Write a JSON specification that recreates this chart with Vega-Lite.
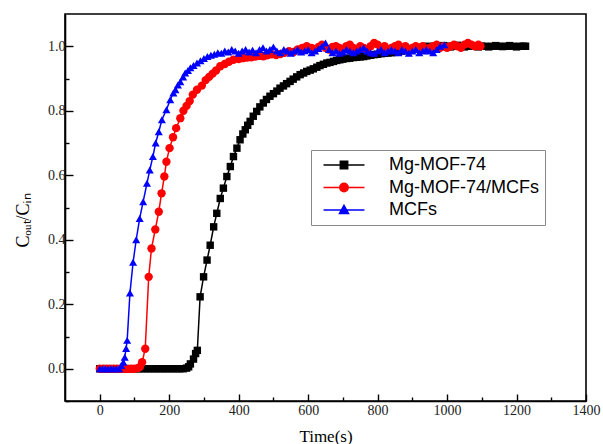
{
  "$schema": "https://vega.github.io/schema/vega-lite/v6.json",
  "width": 521,
  "height": 387,
  "autosize": {"type": "none"},
  "padding": {"left": 65, "top": 14, "right": 17, "bottom": 43},
  "background": "white",
  "config": {
    "view": {"stroke": "black", "strokeWidth": 1.6},
    "axis": {
      "domainColor": "black", "domainWidth": 1.6, "tickColor": "black", "tickWidth": 1.4,
      "labelFont": "Liberation Serif", "labelFontSize": 14, "labelColor": "#222",
      "titleFont": "Liberation Serif", "titleFontSize": 17, "titleFontWeight": "normal", "titleColor": "black",
      "grid": false
    }
  },
  "data": {"values": [
    {"s":"Mg-MOF-74","t":0,"v":0},{"s":"Mg-MOF-74","t":10,"v":0},{"s":"Mg-MOF-74","t":20,"v":0},{"s":"Mg-MOF-74","t":30,"v":0},{"s":"Mg-MOF-74","t":40,"v":0},{"s":"Mg-MOF-74","t":50,"v":0},{"s":"Mg-MOF-74","t":60,"v":0},{"s":"Mg-MOF-74","t":70,"v":0},{"s":"Mg-MOF-74","t":80,"v":0},{"s":"Mg-MOF-74","t":90,"v":0},{"s":"Mg-MOF-74","t":100,"v":0},{"s":"Mg-MOF-74","t":110,"v":0},{"s":"Mg-MOF-74","t":120,"v":0},{"s":"Mg-MOF-74","t":130,"v":0},{"s":"Mg-MOF-74","t":140,"v":0},{"s":"Mg-MOF-74","t":150,"v":0},{"s":"Mg-MOF-74","t":160,"v":0},{"s":"Mg-MOF-74","t":170,"v":0},{"s":"Mg-MOF-74","t":180,"v":0},{"s":"Mg-MOF-74","t":190,"v":0},{"s":"Mg-MOF-74","t":200,"v":0},{"s":"Mg-MOF-74","t":210,"v":0},{"s":"Mg-MOF-74","t":220,"v":0},{"s":"Mg-MOF-74","t":230,"v":0},{"s":"Mg-MOF-74","t":240,"v":0},{"s":"Mg-MOF-74","t":250,"v":0.002},
    {"s":"Mg-MOF-74","t":256,"v":0.006},{"s":"Mg-MOF-74","t":261,"v":0.015},{"s":"Mg-MOF-74","t":270,"v":0.03},{"s":"Mg-MOF-74","t":276,"v":0.047},{"s":"Mg-MOF-74","t":281,"v":0.057},{"s":"Mg-MOF-74","t":289,"v":0.223},{"s":"Mg-MOF-74","t":299,"v":0.285},{"s":"Mg-MOF-74","t":309,"v":0.337},{"s":"Mg-MOF-74","t":318,"v":0.383},{"s":"Mg-MOF-74","t":328,"v":0.44},{"s":"Mg-MOF-74","t":337,"v":0.482},{"s":"Mg-MOF-74","t":347,"v":0.528},{"s":"Mg-MOF-74","t":356,"v":0.56},{"s":"Mg-MOF-74","t":366,"v":0.596},{"s":"Mg-MOF-74","t":376,"v":0.627},{"s":"Mg-MOF-74","t":385,"v":0.658},{"s":"Mg-MOF-74","t":395,"v":0.684},
    {"s":"Mg-MOF-74","t":404,"v":0.71},{"s":"Mg-MOF-74","t":412,"v":0.728},{"s":"Mg-MOF-74","t":419,"v":0.741},{"s":"Mg-MOF-74","t":426,"v":0.755},{"s":"Mg-MOF-74","t":433,"v":0.767},{"s":"Mg-MOF-74","t":442,"v":0.783},{"s":"Mg-MOF-74","t":452,"v":0.798},{"s":"Mg-MOF-74","t":461,"v":0.812},
    {"s":"Mg-MOF-74","t":471,"v":0.824},{"s":"Mg-MOF-74","t":480,"v":0.835},{"s":"Mg-MOF-74","t":490,"v":0.845},{"s":"Mg-MOF-74","t":500,"v":0.853},{"s":"Mg-MOF-74","t":510,"v":0.861},{"s":"Mg-MOF-74","t":519,"v":0.87},{"s":"Mg-MOF-74","t":529,"v":0.877},{"s":"Mg-MOF-74","t":538,"v":0.884},{"s":"Mg-MOF-74","t":548,"v":0.891},{"s":"Mg-MOF-74","t":557,"v":0.898},{"s":"Mg-MOF-74","t":567,"v":0.905},{"s":"Mg-MOF-74","t":577,"v":0.912},{"s":"Mg-MOF-74","t":587,"v":0.917},{"s":"Mg-MOF-74","t":596,"v":0.922},{"s":"Mg-MOF-74","t":606,"v":0.926},{"s":"Mg-MOF-74","t":615,"v":0.93},{"s":"Mg-MOF-74","t":625,"v":0.935},{"s":"Mg-MOF-74","t":634,"v":0.94},{"s":"Mg-MOF-74","t":644,"v":0.944},
    {"s":"Mg-MOF-74","t":654,"v":0.948},{"s":"Mg-MOF-74","t":663,"v":0.95},{"s":"Mg-MOF-74","t":673,"v":0.953},{"s":"Mg-MOF-74","t":682,"v":0.956},{"s":"Mg-MOF-74","t":691,"v":0.958},{"s":"Mg-MOF-74","t":700,"v":0.96},{"s":"Mg-MOF-74","t":710,"v":0.962},{"s":"Mg-MOF-74","t":720,"v":0.963},{"s":"Mg-MOF-74","t":730,"v":0.965},{"s":"Mg-MOF-74","t":740,"v":0.966},{"s":"Mg-MOF-74","t":750,"v":0.967},{"s":"Mg-MOF-74","t":760,"v":0.968},{"s":"Mg-MOF-74","t":769,"v":0.97},{"s":"Mg-MOF-74","t":780,"v":0.972},{"s":"Mg-MOF-74","t":790,"v":0.974},{"s":"Mg-MOF-74","t":800,"v":0.975},{"s":"Mg-MOF-74","t":810,"v":0.977},{"s":"Mg-MOF-74","t":820,"v":0.978},{"s":"Mg-MOF-74","t":830,"v":0.979},{"s":"Mg-MOF-74","t":840,"v":0.98},{"s":"Mg-MOF-74","t":850,"v":0.981},{"s":"Mg-MOF-74","t":860,"v":0.983},{"s":"Mg-MOF-74","t":870,"v":0.985},{"s":"Mg-MOF-74","t":880,"v":0.988},{"s":"Mg-MOF-74","t":890,"v":0.99},{"s":"Mg-MOF-74","t":900,"v":0.99},{"s":"Mg-MOF-74","t":910,"v":0.993},{"s":"Mg-MOF-74","t":920,"v":0.995},{"s":"Mg-MOF-74","t":930,"v":0.997},{"s":"Mg-MOF-74","t":939,"v":1.0},
    {"s":"Mg-MOF-74","t":950,"v":0.998},{"s":"Mg-MOF-74","t":960,"v":1.0},{"s":"Mg-MOF-74","t":970,"v":0.997},{"s":"Mg-MOF-74","t":980,"v":1.0},{"s":"Mg-MOF-74","t":990,"v":1.002},{"s":"Mg-MOF-74","t":1000,"v":1.0},{"s":"Mg-MOF-74","t":1010,"v":0.998},{"s":"Mg-MOF-74","t":1020,"v":1.0},{"s":"Mg-MOF-74","t":1030,"v":1.003},{"s":"Mg-MOF-74","t":1040,"v":1.0},{"s":"Mg-MOF-74","t":1050,"v":0.998},{"s":"Mg-MOF-74","t":1060,"v":1.0},{"s":"Mg-MOF-74","t":1070,"v":1.002},{"s":"Mg-MOF-74","t":1080,"v":1.0},{"s":"Mg-MOF-74","t":1090,"v":0.998},{"s":"Mg-MOF-74","t":1100,"v":1.0},{"s":"Mg-MOF-74","t":1110,"v":1.0},{"s":"Mg-MOF-74","t":1120,"v":0.998},{"s":"Mg-MOF-74","t":1130,"v":1.0},{"s":"Mg-MOF-74","t":1140,"v":1.002},{"s":"Mg-MOF-74","t":1150,"v":1.0},{"s":"Mg-MOF-74","t":1160,"v":0.999},{"s":"Mg-MOF-74","t":1170,"v":1.0},{"s":"Mg-MOF-74","t":1180,"v":1.002},{"s":"Mg-MOF-74","t":1190,"v":1.0},{"s":"Mg-MOF-74","t":1200,"v":0.998},{"s":"Mg-MOF-74","t":1210,"v":1.0},{"s":"Mg-MOF-74","t":1220,"v":1.0},{"s":"Mg-MOF-74","t":1226,"v":1.0},

    {"s":"Mg-MOF-74/MCFs","t":0,"v":0},{"s":"Mg-MOF-74/MCFs","t":10,"v":0},{"s":"Mg-MOF-74/MCFs","t":20,"v":0},{"s":"Mg-MOF-74/MCFs","t":30,"v":0},{"s":"Mg-MOF-74/MCFs","t":40,"v":0},{"s":"Mg-MOF-74/MCFs","t":50,"v":0},{"s":"Mg-MOF-74/MCFs","t":60,"v":0},{"s":"Mg-MOF-74/MCFs","t":70,"v":0},{"s":"Mg-MOF-74/MCFs","t":80,"v":0},{"s":"Mg-MOF-74/MCFs","t":90,"v":0},{"s":"Mg-MOF-74/MCFs","t":100,"v":0},{"s":"Mg-MOF-74/MCFs","t":110,"v":0.002},{"s":"Mg-MOF-74/MCFs","t":116,"v":0.006},{"s":"Mg-MOF-74/MCFs","t":122,"v":0.02},{"s":"Mg-MOF-74/MCFs","t":131,"v":0.062},
    {"s":"Mg-MOF-74/MCFs","t":141,"v":0.285},{"s":"Mg-MOF-74/MCFs","t":149,"v":0.373},{"s":"Mg-MOF-74/MCFs","t":160,"v":0.432},{"s":"Mg-MOF-74/MCFs","t":170,"v":0.487},{"s":"Mg-MOF-74/MCFs","t":178,"v":0.544},{"s":"Mg-MOF-74/MCFs","t":186,"v":0.596},{"s":"Mg-MOF-74/MCFs","t":192,"v":0.642},{"s":"Mg-MOF-74/MCFs","t":201,"v":0.684},{"s":"Mg-MOF-74/MCFs","t":211,"v":0.718},{"s":"Mg-MOF-74/MCFs","t":220,"v":0.746},{"s":"Mg-MOF-74/MCFs","t":232,"v":0.777},{"s":"Mg-MOF-74/MCFs","t":241,"v":0.8},{"s":"Mg-MOF-74/MCFs","t":250,"v":0.815},{"s":"Mg-MOF-74/MCFs","t":259,"v":0.83},{"s":"Mg-MOF-74/MCFs","t":268,"v":0.85},{"s":"Mg-MOF-74/MCFs","t":280,"v":0.865},{"s":"Mg-MOF-74/MCFs","t":294,"v":0.878},{"s":"Mg-MOF-74/MCFs","t":305,"v":0.895},{"s":"Mg-MOF-74/MCFs","t":315,"v":0.905},{"s":"Mg-MOF-74/MCFs","t":325,"v":0.915},{"s":"Mg-MOF-74/MCFs","t":335,"v":0.925},{"s":"Mg-MOF-74/MCFs","t":347,"v":0.938},{"s":"Mg-MOF-74/MCFs","t":360,"v":0.945},{"s":"Mg-MOF-74/MCFs","t":372,"v":0.952},{"s":"Mg-MOF-74/MCFs","t":385,"v":0.958},{"s":"Mg-MOF-74/MCFs","t":400,"v":0.96},{"s":"Mg-MOF-74/MCFs","t":412,"v":0.963},{"s":"Mg-MOF-74/MCFs","t":424,"v":0.965},{"s":"Mg-MOF-74/MCFs","t":436,"v":0.966},{"s":"Mg-MOF-74/MCFs","t":448,"v":0.968},{"s":"Mg-MOF-74/MCFs","t":460,"v":0.97},{"s":"Mg-MOF-74/MCFs","t":471,"v":0.969},{"s":"Mg-MOF-74/MCFs","t":482,"v":0.972},{"s":"Mg-MOF-74/MCFs","t":495,"v":0.975},{"s":"Mg-MOF-74/MCFs","t":508,"v":0.973},{"s":"Mg-MOF-74/MCFs","t":520,"v":0.976},{"s":"Mg-MOF-74/MCFs","t":532,"v":0.98},{"s":"Mg-MOF-74/MCFs","t":545,"v":0.985},{"s":"Mg-MOF-74/MCFs","t":558,"v":0.982},{"s":"Mg-MOF-74/MCFs","t":570,"v":0.99},{"s":"Mg-MOF-74/MCFs","t":583,"v":0.995},{"s":"Mg-MOF-74/MCFs","t":596,"v":1.0},
    {"s":"Mg-MOF-74/MCFs","t":610,"v":0.995},{"s":"Mg-MOF-74/MCFs","t":620,"v":0.99},{"s":"Mg-MOF-74/MCFs","t":630,"v":0.998},{"s":"Mg-MOF-74/MCFs","t":640,"v":1.005},{"s":"Mg-MOF-74/MCFs","t":650,"v":0.995},{"s":"Mg-MOF-74/MCFs","t":660,"v":0.99},{"s":"Mg-MOF-74/MCFs","t":670,"v":0.998},{"s":"Mg-MOF-74/MCFs","t":680,"v":1.0},{"s":"Mg-MOF-74/MCFs","t":690,"v":0.995},{"s":"Mg-MOF-74/MCFs","t":700,"v":0.99},{"s":"Mg-MOF-74/MCFs","t":710,"v":1.0},{"s":"Mg-MOF-74/MCFs","t":720,"v":1.005},{"s":"Mg-MOF-74/MCFs","t":730,"v":0.995},{"s":"Mg-MOF-74/MCFs","t":740,"v":0.99},{"s":"Mg-MOF-74/MCFs","t":750,"v":1.0},{"s":"Mg-MOF-74/MCFs","t":760,"v":0.995},{"s":"Mg-MOF-74/MCFs","t":770,"v":0.99},{"s":"Mg-MOF-74/MCFs","t":780,"v":1.0},{"s":"Mg-MOF-74/MCFs","t":790,"v":1.01},{"s":"Mg-MOF-74/MCFs","t":800,"v":1.005},{"s":"Mg-MOF-74/MCFs","t":810,"v":0.995},{"s":"Mg-MOF-74/MCFs","t":820,"v":1.0},{"s":"Mg-MOF-74/MCFs","t":830,"v":0.99},{"s":"Mg-MOF-74/MCFs","t":840,"v":0.995},{"s":"Mg-MOF-74/MCFs","t":850,"v":1.0},{"s":"Mg-MOF-74/MCFs","t":860,"v":1.005},{"s":"Mg-MOF-74/MCFs","t":870,"v":0.995},{"s":"Mg-MOF-74/MCFs","t":880,"v":1.0},{"s":"Mg-MOF-74/MCFs","t":890,"v":0.99},{"s":"Mg-MOF-74/MCFs","t":900,"v":0.995},{"s":"Mg-MOF-74/MCFs","t":910,"v":1.0},{"s":"Mg-MOF-74/MCFs","t":920,"v":0.995},{"s":"Mg-MOF-74/MCFs","t":930,"v":1.0},{"s":"Mg-MOF-74/MCFs","t":940,"v":0.99},{"s":"Mg-MOF-74/MCFs","t":950,"v":0.995},{"s":"Mg-MOF-74/MCFs","t":960,"v":1.0},{"s":"Mg-MOF-74/MCFs","t":970,"v":1.005},{"s":"Mg-MOF-74/MCFs","t":980,"v":0.995},{"s":"Mg-MOF-74/MCFs","t":990,"v":1.0},{"s":"Mg-MOF-74/MCFs","t":1000,"v":0.995},{"s":"Mg-MOF-74/MCFs","t":1010,"v":1.0},{"s":"Mg-MOF-74/MCFs","t":1020,"v":1.005},{"s":"Mg-MOF-74/MCFs","t":1030,"v":1.0},{"s":"Mg-MOF-74/MCFs","t":1040,"v":0.995},{"s":"Mg-MOF-74/MCFs","t":1050,"v":1.005},{"s":"Mg-MOF-74/MCFs","t":1060,"v":1.01},{"s":"Mg-MOF-74/MCFs","t":1070,"v":1.005},{"s":"Mg-MOF-74/MCFs","t":1080,"v":1.0},{"s":"Mg-MOF-74/MCFs","t":1090,"v":1.005},{"s":"Mg-MOF-74/MCFs","t":1096,"v":1.0},

    {"s":"MCFs","t":0,"v":0},{"s":"MCFs","t":8,"v":0},{"s":"MCFs","t":16,"v":0},{"s":"MCFs","t":24,"v":0},{"s":"MCFs","t":32,"v":0},{"s":"MCFs","t":40,"v":0},{"s":"MCFs","t":48,"v":0},{"s":"MCFs","t":56,"v":0},{"s":"MCFs","t":62,"v":0.01},{"s":"MCFs","t":68,"v":0.02},{"s":"MCFs","t":72,"v":0.036},{"s":"MCFs","t":76,"v":0.063},{"s":"MCFs","t":79,"v":0.088},{"s":"MCFs","t":87,"v":0.235},{"s":"MCFs","t":96,"v":0.33},{"s":"MCFs","t":105,"v":0.4},{"s":"MCFs","t":115,"v":0.466},{"s":"MCFs","t":125,"v":0.518},{"s":"MCFs","t":136,"v":0.575},{"s":"MCFs","t":144,"v":0.616},{"s":"MCFs","t":153,"v":0.658},{"s":"MCFs","t":161,"v":0.7},{"s":"MCFs","t":170,"v":0.735},{"s":"MCFs","t":179,"v":0.772},{"s":"MCFs","t":192,"v":0.803},{"s":"MCFs","t":203,"v":0.834},{"s":"MCFs","t":212,"v":0.855},{"s":"MCFs","t":218,"v":0.865},{"s":"MCFs","t":225,"v":0.88},{"s":"MCFs","t":232,"v":0.89},{"s":"MCFs","t":240,"v":0.905},{"s":"MCFs","t":246,"v":0.917},{"s":"MCFs","t":254,"v":0.925},{"s":"MCFs","t":261,"v":0.933},{"s":"MCFs","t":270,"v":0.94},{"s":"MCFs","t":280,"v":0.948},{"s":"MCFs","t":290,"v":0.955},{"s":"MCFs","t":300,"v":0.962},{"s":"MCFs","t":310,"v":0.968},{"s":"MCFs","t":320,"v":0.972},{"s":"MCFs","t":330,"v":0.975},{"s":"MCFs","t":340,"v":0.98},{"s":"MCFs","t":350,"v":0.978},{"s":"MCFs","t":360,"v":0.985},{"s":"MCFs","t":370,"v":0.982},{"s":"MCFs","t":380,"v":0.99},{"s":"MCFs","t":390,"v":0.985},{"s":"MCFs","t":400,"v":0.978},{"s":"MCFs","t":410,"v":0.985},{"s":"MCFs","t":420,"v":0.99},{"s":"MCFs","t":430,"v":0.982},{"s":"MCFs","t":440,"v":0.988},{"s":"MCFs","t":450,"v":0.98},{"s":"MCFs","t":460,"v":0.99},{"s":"MCFs","t":470,"v":0.995},{"s":"MCFs","t":480,"v":0.985},{"s":"MCFs","t":490,"v":0.99},{"s":"MCFs","t":500,"v":0.998},{"s":"MCFs","t":510,"v":0.985},{"s":"MCFs","t":520,"v":0.98},{"s":"MCFs","t":530,"v":0.99},{"s":"MCFs","t":540,"v":0.985},{"s":"MCFs","t":550,"v":0.978},{"s":"MCFs","t":560,"v":0.985},{"s":"MCFs","t":570,"v":0.99},{"s":"MCFs","t":580,"v":0.982},{"s":"MCFs","t":590,"v":0.986},{"s":"MCFs","t":600,"v":0.99},{"s":"MCFs","t":610,"v":0.98},{"s":"MCFs","t":620,"v":0.985},{"s":"MCFs","t":630,"v":0.993},{"s":"MCFs","t":640,"v":1.0},{"s":"MCFs","t":650,"v":1.01},{"s":"MCFs","t":660,"v":0.99},{"s":"MCFs","t":670,"v":0.98},{"s":"MCFs","t":680,"v":0.985},{"s":"MCFs","t":690,"v":0.978},{"s":"MCFs","t":700,"v":0.982},{"s":"MCFs","t":710,"v":0.99},{"s":"MCFs","t":720,"v":0.985},{"s":"MCFs","t":730,"v":0.98},{"s":"MCFs","t":740,"v":0.985},{"s":"MCFs","t":750,"v":0.99},{"s":"MCFs","t":760,"v":0.995},{"s":"MCFs","t":770,"v":0.985},{"s":"MCFs","t":780,"v":0.98},{"s":"MCFs","t":790,"v":0.978},{"s":"MCFs","t":800,"v":0.985},{"s":"MCFs","t":810,"v":0.99},{"s":"MCFs","t":820,"v":0.98},{"s":"MCFs","t":830,"v":0.985},{"s":"MCFs","t":840,"v":0.99},{"s":"MCFs","t":850,"v":0.985},{"s":"MCFs","t":860,"v":0.98},{"s":"MCFs","t":870,"v":0.99},{"s":"MCFs","t":880,"v":0.985},{"s":"MCFs","t":890,"v":0.978},{"s":"MCFs","t":900,"v":0.985},{"s":"MCFs","t":910,"v":0.99},{"s":"MCFs","t":920,"v":0.98},{"s":"MCFs","t":930,"v":0.985},{"s":"MCFs","t":940,"v":0.99},{"s":"MCFs","t":950,"v":0.985},{"s":"MCFs","t":960,"v":0.98},{"s":"MCFs","t":970,"v":0.99},{"s":"MCFs","t":980,"v":1.0},{"s":"MCFs","t":992,"v":1.005}
  ]},
  "resolve": {"axis": {"x": "independent", "y": "independent"}},
  "layer": [
    {
      "mark": {"type": "line", "strokeWidth": 1.5},
      "encoding": {
        "x": {"field": "t", "type": "quantitative", "scale": {"domain": [-100, 1400], "nice": false, "zero": false},
          "axis": {"orient": "bottom", "values": [0,200,400,600,800,1000,1200,1400], "format": "d", "tickSize": -7, "labelPadding": 9, "labelFont": "Liberation Serif", "labelFontSize": 14, "title": "Time(s)", "titleFont": "Liberation Serif", "titleY": 35, "titleBaseline": "middle", "labelFlush": false}},
        "y": {"field": "v", "type": "quantitative", "scale": {"domain": [-0.1, 1.1], "nice": false, "zero": false},
          "axis": {"orient": "left", "values": [0,0.2,0.4,0.6,0.8,1.0], "format": ".1f", "tickSize": -8, "labelPadding": 8, "labelFont": "Liberation Serif", "labelFontSize": 14, "title": "Cₒᵤₜ/Cᵢₙ", "titleFont": "Liberation Serif", "titleFontSize": 18, "titleX": -42, "titleY": 206, "titleAngle": 270, "titleAlign": "center", "titleBaseline": "middle", "labelFlush": false}},
        "color": {"field": "s", "type": "nominal", "scale": {"domain": ["Mg-MOF-74", "Mg-MOF-74/MCFs", "MCFs"], "range": ["#000000", "#ff0000", "#0000ff"]}},
        "detail": {"field": "s"}
      }
    },
    {
      "transform": [{"filter": "datum.s === 'Mg-MOF-74'"}],
      "mark": {"type": "point", "shape": "square", "size": 55, "filled": true, "opacity": 1},
      "encoding": {
        "x": {"field": "t", "type": "quantitative", "axis": null},
        "y": {"field": "v", "type": "quantitative", "axis": null},
        "color": {"field": "s", "type": "nominal"}
      }
    },
    {
      "transform": [{"filter": "datum.s === 'Mg-MOF-74/MCFs'"}],
      "mark": {"type": "point", "shape": "circle", "size": 70, "filled": true, "opacity": 1},
      "encoding": {
        "x": {"field": "t", "type": "quantitative", "axis": null},
        "y": {"field": "v", "type": "quantitative", "axis": null},
        "color": {"field": "s", "type": "nominal"}
      }
    },
    {
      "transform": [{"filter": "datum.s === 'MCFs'"}],
      "mark": {"type": "point", "shape": "triangle-up", "size": 65, "filled": true, "opacity": 1},
      "encoding": {
        "x": {"field": "t", "type": "quantitative", "axis": null},
        "y": {"field": "v", "type": "quantitative", "axis": null},
        "color": {"field": "s", "type": "nominal"}
      }
    },
    {
      "mark": {"type": "point", "filled": true, "opacity": 0, "strokeWidth": 1.5},
      "encoding": {
        "x": {"field": "t", "type": "quantitative",
          "axis": {"orient": "bottom", "values": [100,300,500,700,900,1100,1300], "tickSize": -4, "labels": false, "domain": false, "title": null}},
        "y": {"field": "v", "type": "quantitative",
          "axis": {"orient": "left", "values": [-0.1,0.1,0.3,0.5,0.7,0.9], "tickSize": -4, "labels": false, "domain": false, "title": null}},
        "color": {"field": "s", "type": "nominal",
          "legend": {
            "title": null, "orient": "none", "legendX": 246, "legendY": 136,
            "strokeColor": "#888", "padding": 6, "rowPadding": 4.5,
            "labelFont": "Liberation Sans", "labelFontSize": 18, "labelColor": "black", "labelOffset": 36, "labelLimit": 300,
            "symbolSize": 225, "symbolOffset": 18, "symbolOpacity": 1, "symbolStrokeWidth": 1.5
          }},
        "stroke": {"field": "s", "type": "nominal", "scale": {"domain": ["Mg-MOF-74", "Mg-MOF-74/MCFs", "MCFs"], "range": ["#000000", "#ff0000", "#0000ff"]}},
        "shape": {"field": "s", "type": "nominal", "scale": {"domain": ["Mg-MOF-74", "Mg-MOF-74/MCFs", "MCFs"], "range": ["M-2.73,0H2.73M-0.49,-0.49H0.49V0.49H-0.49Z", "M-2.73,0H2.73M0.56,0A0.56,0.56,0,1,1,-0.56,0A0.56,0.56,0,1,1,0.56,0Z", "M-2.73,0H2.73M0,-0.62L0.6,0.45H-0.6Z"]}}
      }
    }
  ]
}
